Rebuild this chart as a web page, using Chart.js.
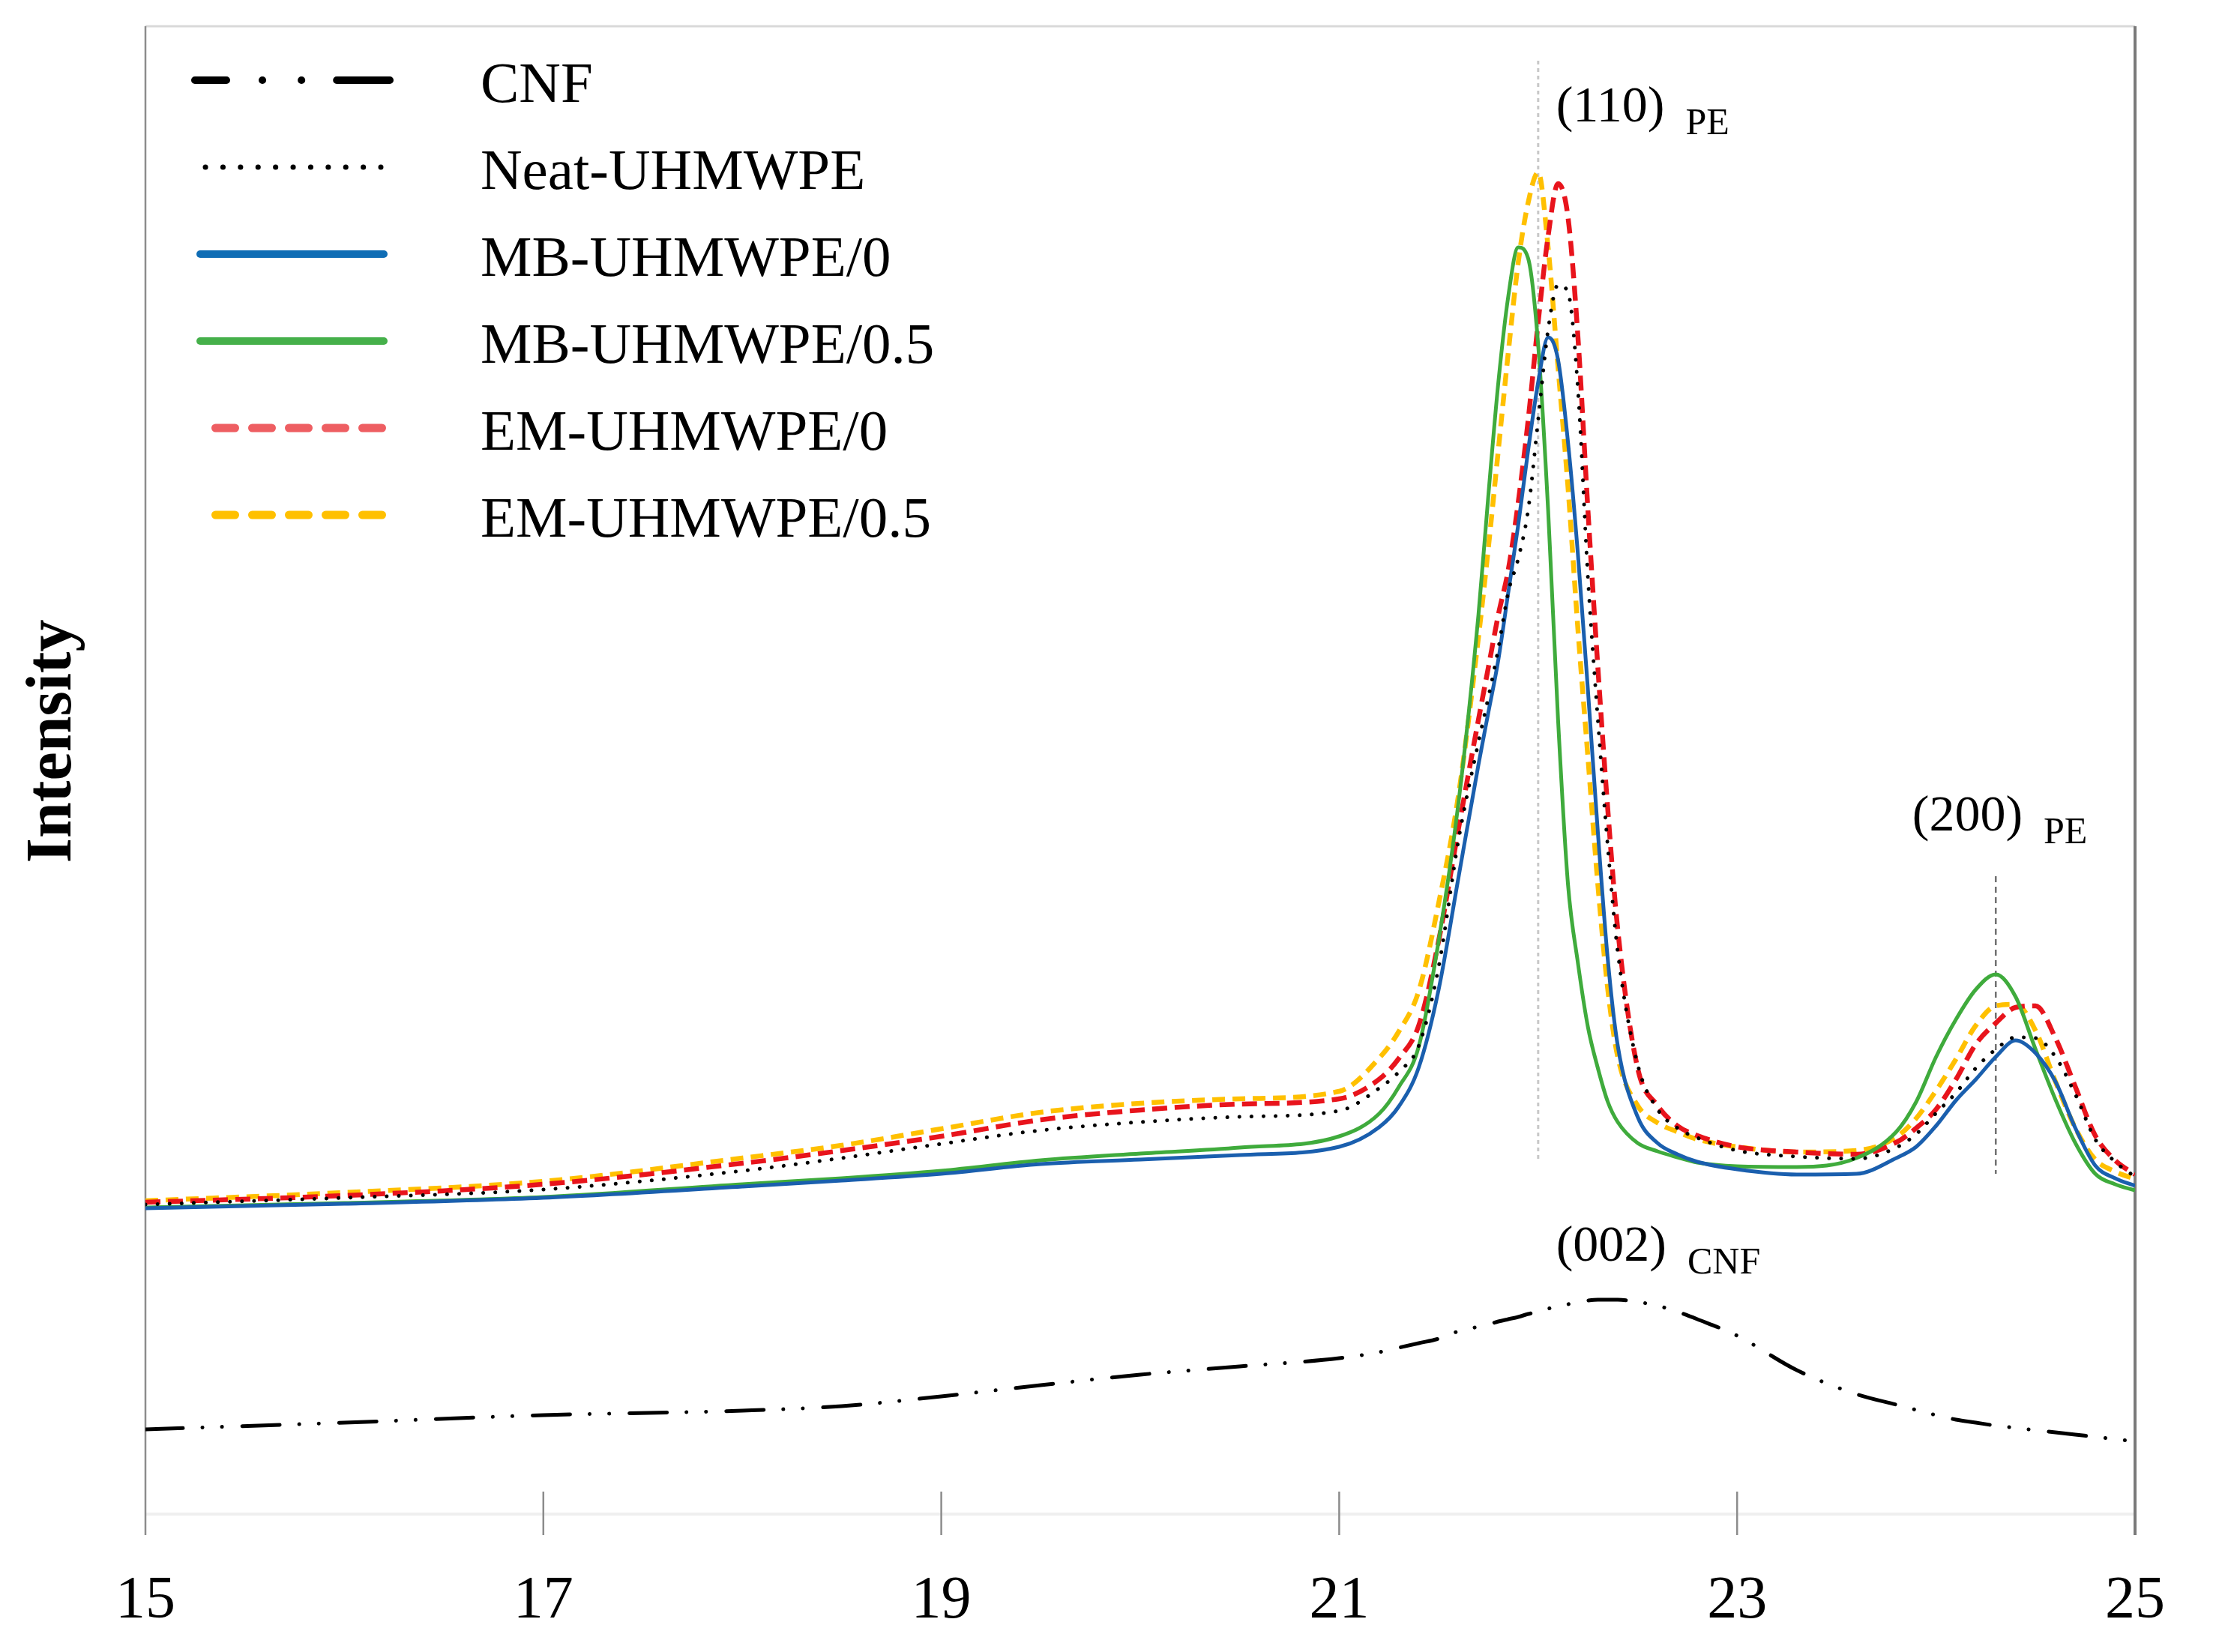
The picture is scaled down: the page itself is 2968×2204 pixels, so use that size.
<!DOCTYPE html>
<html>
<head>
<meta charset="utf-8">
<script src="https://cdn.jsdelivr.net/npm/chart.js@4.4.1/dist/chart.umd.min.js"></script>
<style>
html, body { margin: 0; padding: 0; background: #fff; }
#wrap { width: 2968px; height: 2204px; }
</style>
</head>
<body>
<div id="wrap"><canvas id="xrd" width="2968" height="2204"></canvas></div>
<script>
// 2θ (deg) grid, intensities in arbitrary units
const twoTheta = [15, 16, 17, 18, 18.5, 19, 19.5, 20, 20.5, 21, 21.2, 21.3, 21.4, 21.5, 21.6, 21.7, 21.75, 21.8, 21.85, 21.9, 21.95,
  22, 22.05, 22.1, 22.15, 22.2, 22.25, 22.3, 22.35, 22.4, 22.5, 22.6, 22.7, 22.8, 23, 23.3, 23.6, 23.8, 23.9, 24, 24.1,
  24.2, 24.3, 24.4, 24.5, 24.6, 24.7, 24.8, 24.9, 25];

const cnf = [56.5, 61, 66, 69, 72, 78.5, 86, 93, 98.5, 104, 108, 111, 114, 117, 122, 125, 126.5, 128.5, 130, 131.5, 133.5,
  135, 137, 138.5, 140, 141.5, 142.5, 143, 143, 143, 141.5, 139, 135, 130, 119, 96, 80, 73, 69.5, 66, 63,
  61, 59, 57.5, 56, 54.5, 53, 51.5, 50, 48.5];

const neat = [206.5, 211, 216.5, 229, 237.5, 247, 256, 261.5, 265, 269, 284, 295, 312.5, 365, 450, 515, 545, 577.5, 615, 637.5, 670,
  730, 790, 820, 815, 750, 625, 530, 445, 375, 300, 270, 257.5, 251, 242.5, 238.5, 237, 244.5, 253.5, 267.5, 281,
  297.5, 310, 318, 317.5, 305, 280, 250, 235, 225];

const mb0 = [204, 207, 211, 218.5, 222.5, 227, 233.5, 236.5, 239.5, 245, 258, 272, 298, 350, 425, 500, 535, 570, 615, 660, 710,
  755, 785, 770, 715, 640, 550, 455, 370, 312.5, 265, 247.5, 240, 235, 230, 226.5, 227, 237.5, 245, 259, 276,
  290, 305, 316, 307.5, 288.5, 257.5, 232.5, 224, 219];

const mb05 = [204.5, 207.5, 211.5, 220, 224, 229, 236, 240.5, 244.5, 252, 267, 285, 312, 382.5, 475, 600, 680, 755, 812.5, 845, 837.5,
  780, 670, 530, 420, 367.5, 325, 297.5, 275, 261.5, 247.5, 242, 238, 234.5, 232, 231.5, 237.5, 255, 275, 305, 330,
  350, 360, 345, 310, 276.5, 247.5, 227, 220, 216];

const em0 = [208, 212.5, 220, 234, 242.5, 252, 263, 269.5, 273.5, 277, 290, 304, 326, 382.5, 457.5, 530, 565, 600, 630, 675, 730,
  795, 852.5, 887.5, 865, 785, 670, 565, 470, 390, 297.5, 272.5, 259, 252.5, 245, 241.5, 240, 248, 257.5, 270, 290,
  313.5, 327.5, 338, 339, 317.5, 285, 252.5, 236, 226.5];

const em05 = [209, 214.5, 222, 237.5, 246, 257, 268, 274, 277, 282, 304, 322, 349, 407.5, 480, 585, 645, 710, 775, 835, 875,
  895, 845, 765, 685, 590, 505, 420, 350, 305, 272.5, 261, 255, 250, 245, 241.5, 242.5, 251.5, 264, 282.5, 303.5,
  326, 339, 340, 322.5, 288.5, 257.5, 236.5, 228.5, 223.5];

const seriesNames = ["CNF", "Neat-UHMWPE", "MB-UHMWPE/0", "MB-UHMWPE/0.5", "EM-UHMWPE/0", "EM-UHMWPE/0.5"];
const xTicks = [15, 17, 19, 21, 23, 25];

// peak labels and their marker lines
const peakText = ["(110)", "(200)", "(002)"];
const peakSub = ["PE", "PE", "CNF"];
const peakTextX = [22.09, 23.88, 22.09];
const peakTextY = [929, 456, 169];
const refLineX = [22.0, 24.3];
const refLineTop = [969.5, 425.5];
const refLineBottom = [237, 227];

const serif = "'Liberation Serif', 'Times New Roman', serif";

// legend swatches (drawn by hand, the figure's legend is a plain list)
const swatches = [
  { color: '#000000', width: 10, dash: [42, 48, 0.1, 52, 0.1, 47, 400], x0: 260, x1: 520 },
  { color: '#000000', width: 7, dash: [0.1, 23.3], x0: 274, x1: 508 },
  { color: '#0f6db5', width: 10, dash: [], x0: 267, x1: 512 },
  { color: '#45b04a', width: 10, dash: [], x0: 267, x1: 512 },
  { color: '#ee5e62', width: 11, dash: [26, 23], x0: 287.5, x1: 512 },
  { color: '#ffc000', width: 11, dash: [26, 23], x0: 287.5, x1: 512 }
];

function pts(arr) {
  return twoTheta.map(function(t, i) { return { x: t, y: arr[i] }; });
}

const framePlugin = {
  id: 'frame',
  beforeDatasetsDraw(chart) {
    const c = chart.ctx;
    const a = chart.chartArea;
    const xs = chart.scales.x;
    const ys = chart.scales.y;
    c.save();
    c.lineCap = 'butt';

    // bottom baseline (very light)
    c.strokeStyle = '#efefef';
    c.lineWidth = 4;
    c.beginPath(); c.moveTo(a.left, a.bottom); c.lineTo(a.right, a.bottom); c.stroke();

    // top border
    c.strokeStyle = '#d9d9d9';
    c.lineWidth = 3;
    c.beginPath(); c.moveTo(a.left, a.top); c.lineTo(a.right, a.top); c.stroke();

    // left axis and right border
    c.strokeStyle = '#8c8c8c';
    c.lineWidth = 2.5;
    c.beginPath(); c.moveTo(a.left, a.top); c.lineTo(a.left, a.bottom + 28); c.stroke();
    c.strokeStyle = '#7a7a7a';
    c.lineWidth = 4;
    c.beginPath(); c.moveTo(a.right, a.top); c.lineTo(a.right, a.bottom + 28); c.stroke();

    // tick marks crossing the baseline
    c.strokeStyle = '#8c8c8c';
    c.lineWidth = 2.5;
    xTicks.slice(1, -1).forEach(function(v) {
      const px = xs.getPixelForValue(v);
      c.beginPath(); c.moveTo(px, a.bottom - 30); c.lineTo(px, a.bottom + 28); c.stroke();
    });

    // peak position lines
    const refColor = ['#c8c8c8', '#707070'];
    const refDash = [[5, 5], [8, 6]];
    const refWidth = [3, 2.5];
    refLineX.forEach(function(v, i) {
      const px = xs.getPixelForValue(v);
      c.strokeStyle = refColor[i];
      c.lineWidth = refWidth[i];
      c.setLineDash(refDash[i]);
      c.beginPath();
      c.moveTo(px, ys.getPixelForValue(refLineTop[i]));
      c.lineTo(px, ys.getPixelForValue(refLineBottom[i]));
      c.stroke();
    });
    c.restore();
  },
  afterDatasetsDraw(chart) {
    const c = chart.ctx;
    const xs = chart.scales.x;
    const ys = chart.scales.y;
    c.save();
    c.fillStyle = '#000';
    c.textBaseline = 'alphabetic';
    c.textAlign = 'left';

    // peak labels with subscripts
    peakText.forEach(function(t, i) {
      const px = xs.getPixelForValue(peakTextX[i]);
      const py = ys.getPixelForValue(peakTextY[i]);
      c.font = '68px ' + serif;
      c.fillText(t, px, py);
      const w = c.measureText(t).width;
      c.font = '50px ' + serif;
      c.fillText(peakSub[i], px + w + 28, py + 17);
    });

    // legend
    c.lineCap = 'round';
    chart.data.datasets.forEach(function(ds, i) {
      const s = swatches[i];
      const ly = 107 + i * 116;
      c.strokeStyle = s.color;
      c.lineWidth = s.width;
      c.setLineDash(s.dash);
      c.beginPath(); c.moveTo(s.x0, ly); c.lineTo(s.x1, ly); c.stroke();
      c.setLineDash([]);
      c.font = '77px ' + serif;
      c.fillText(ds.label, 641, ly + 29);
    });

    // y axis title
    c.translate(94, 989);
    c.rotate(-Math.PI / 2);
    c.textAlign = 'center';
    c.font = 'bold 86px ' + serif;
    c.fillText('Intensity', 0, 0);
    c.restore();
  }
};

const ctx = document.getElementById('xrd');

new Chart(ctx, {
  type: 'line',
  data: {
    datasets: [
      { label: seriesNames[0], data: pts(cnf), borderColor: '#000000', borderWidth: 5,
        borderDash: [50, 26, 0.1, 26, 0.1, 27], borderCapStyle: 'round' },
      { label: seriesNames[1], data: pts(neat), borderColor: '#000000', borderWidth: 5,
        borderDash: [0.1, 16], borderCapStyle: 'round' },
      { label: seriesNames[2], data: pts(mb0), borderColor: '#1a5fae', borderWidth: 5 },
      { label: seriesNames[3], data: pts(mb05), borderColor: '#3fab3c', borderWidth: 5 },
      { label: seriesNames[4], data: pts(em0), borderColor: '#e8141c', borderWidth: 6.5,
        borderDash: [20, 10] },
      { label: seriesNames[5], data: pts(em05), borderColor: '#ffc000', borderWidth: 6.5,
        borderDash: [17, 10] }
    ]
  },
  options: {
    responsive: false,
    animation: false,
    devicePixelRatio: 1,
    layout: { padding: { left: 194, right: 120, top: 35, bottom: 0 } },
    elements: {
      point: { radius: 0, hitRadius: 0 },
      line: { cubicInterpolationMode: 'monotone', fill: false }
    },
    scales: {
      x: {
        type: 'linear',
        min: 15,
        max: 25,
        afterBuildTicks: function(scale) {
          scale.ticks = xTicks.map(function(v) { return { value: v }; });
        },
        afterFit: function(scale) { scale.height = 184; },
        grid: { display: false, drawTicks: false, tickLength: 0 },
        border: { display: false },
        ticks: {
          font: { family: serif, size: 80 },
          color: '#000',
          padding: 69,
          maxRotation: 0,
          autoSkip: false
        }
      },
      y: { display: false, min: 0, max: 992.5 }
    },
    plugins: {
      legend: { display: false },
      tooltip: { enabled: false }
    }
  },
  plugins: [framePlugin]
});
</script>
</body>
</html>
